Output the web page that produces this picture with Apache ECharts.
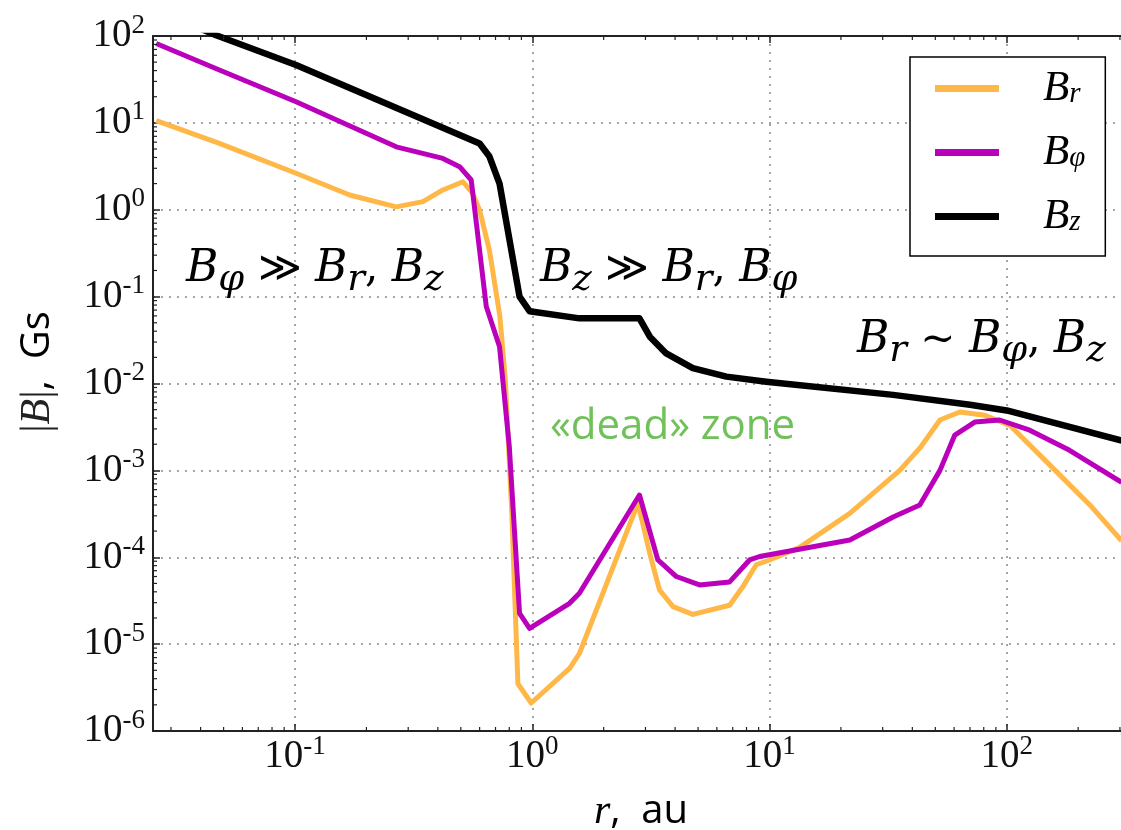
<!DOCTYPE html>
<html><head><meta charset="utf-8">
<script src="https://cdn.jsdelivr.net/npm/echarts@6/dist/echarts.min.js"></script>
<style>html,body{margin:0;padding:0;background:#fff}#c{width:1121px;height:830px}</style>
</head><body><div id="c"></div>
<script>
// ---- data (r in au, |B| in Gs) ----
const rBr   = [0.026, 0.048, 0.101, 0.170, 0.267, 0.346, 0.42, 0.51, 0.56, 0.60, 0.66, 0.73, 0.77, 0.82, 0.87, 0.99, 1.44, 1.58, 2.79, 3.13, 3.44, 3.92, 4.75, 6.79, 7.73, 8.79, 10.0, 13.4, 21.8, 35.4, 43.0, 52.3, 63.4, 80.9, 103, 152, 224, 305];
const valBr = [10.6, 5.8, 2.63, 1.48, 1.08, 1.24, 1.69, 2.10, 1.55, 0.99, 0.34, 0.06, 0.011, 3.2e-4, 3.5e-6, 2.1e-6, 5.3e-6, 7.8e-6, 4.2e-4, 1.1e-4, 4.2e-5, 2.7e-5, 2.2e-5, 2.8e-5, 4.6e-5, 8.2e-5, 9.3e-5, 1.3e-4, 3.2e-4, 1.0e-3, 1.8e-3, 3.8e-3, 4.7e-3, 4.3e-3, 3.3e-3, 1.15e-3, 4.0e-4, 1.55e-4];

const rBphi   = [0.026, 0.048, 0.101, 0.267, 0.42, 0.494, 0.553, 0.64, 0.728, 0.80, 0.884, 0.974, 1.436, 1.58, 2.83, 3.385, 4.05, 5.07, 6.79, 8.24, 9.09, 21.8, 33.2, 43.0, 52.3, 60.4, 73.3, 93.4, 125, 184, 305];
const valBphi = [82, 40.6, 17.5, 5.3, 3.9, 3.13, 2.2, 0.077, 0.0265, 1.9e-3, 2.26e-5, 1.52e-5, 2.95e-5, 3.85e-5, 5.2e-4, 9.3e-5, 6.0e-5, 4.8e-5, 5.2e-5, 9.3e-5, 1.02e-4, 1.58e-4, 2.9e-4, 4.0e-4, 1.0e-3, 2.55e-3, 3.6e-3, 3.8e-3, 2.9e-3, 1.7e-3, 7.3e-4];

const rBz   = [0.0252, 0.0465, 0.101, 0.60, 0.66, 0.728, 0.884, 0.974, 1.58, 2.75, 2.83, 3.13, 3.67, 4.75, 6.58, 9.69, 33.2, 70, 100, 305];
const valBz = [205, 102, 46.4, 5.8, 4.1, 2.0, 0.0998, 0.068, 0.0562, 0.0565, 0.0562, 0.0346, 0.0222, 0.0150, 0.0120, 0.0105, 0.0074, 0.0057, 0.0049, 0.0022];

const seriesNames = ['Br', 'Bphi', 'Bz'];
const seriesSubs  = {Br: 'r', Bphi: 'φ', Bz: 'z'};
const seriesColors = ['#FFB847', '#BB00BB', '#000000'];

const X_MIN = 0.0252, X_MAX = 334, Y_MIN = 1e-6, Y_MAX = 100;
const xDecades = [-2, -1, 0, 1, 2];
const yDecades = [-6, -5, -4, -3, -2, -1, 0, 1];

// ---- build ----
const zip = (a, b) => a.map((v, i) => [v, b[i]]);
const xMinor = [], yMinor = [];
xDecades.forEach(e => { for (let m = 2; m <= 9; m++) { const v = m * Math.pow(10, e); if (v > X_MIN && v < X_MAX) xMinor.push([v, 1]); } });
yDecades.forEach(e => { for (let m = 2; m <= 9; m++) { const v = m * Math.pow(10, e); if (v > Y_MIN && v < Y_MAX) yMinor.push([1, v]); } });

const tickRich = {
  b: {fontFamily: 'Liberation Serif', fontSize: 39, lineHeight: 48, color: '#111'},
  s: {fontFamily: 'Liberation Serif', fontSize: 27, lineHeight: 20, verticalAlign: 'top', color: '#111'}
};
const powLabel = v => '{b|10}{s|' + Math.round(Math.log10(v)) + '}';

const axisLineStyle = {color: '#222', width: 2};
const tickStyle = {color: '#222', width: 1.5};
const gridLine = {show: true, lineStyle: {color: '#888', type: [2, 6], width: 1.5}};

const mathRich = {
  B: {fontFamily: 'DejaVu Serif', fontStyle: 'italic', fontSize: 44, lineHeight: 58, fill: '#000'},
  s: {fontFamily: 'DejaVu Serif', fontStyle: 'italic', fontSize: 37, lineHeight: 36, verticalAlign: 'bottom', fill: '#000'},
  o: {fontFamily: 'DejaVu Serif', fontSize: 42, lineHeight: 58, fill: '#000'}
};

const chart = echarts.init(document.getElementById('c'), null, {renderer: 'canvas'});
chart.setOption({
  animation: false,
  backgroundColor: '#fff',
  grid: {left: 153, top: 36, width: 978, height: 695, containLabel: false, outerBoundsMode: 'none'},
  xAxis: [{
    type: 'log', logBase: 10, min: X_MIN, max: X_MAX, position: 'bottom',
    axisLine: {lineStyle: axisLineStyle},
    axisTick: {inside: true, length: 7, lineStyle: tickStyle},
    splitLine: gridLine,
    axisLabel: {formatter: powLabel, rich: tickRich, margin: 2, showMinLabel: false, showMaxLabel: false}
  }, {
    type: 'log', logBase: 10, min: X_MIN, max: X_MAX, position: 'top',
    axisLine: {lineStyle: axisLineStyle},
    axisTick: {inside: true, length: 7, lineStyle: tickStyle},
    splitLine: {show: false}, axisLabel: {show: false}
  }],
  yAxis: [{
    type: 'log', logBase: 10, min: Y_MIN, max: Y_MAX,
    axisLine: {show: true, lineStyle: axisLineStyle},
    axisTick: {show: true, inside: true, length: 7, lineStyle: tickStyle},
    splitLine: gridLine,
    axisLabel: {formatter: powLabel, rich: tickRich, margin: 8}
  }],
  legend: {
    data: seriesNames,
    orient: 'vertical', left: 910, top: 57,
    backgroundColor: '#fff', borderColor: '#000', borderWidth: 1.5, borderRadius: 0,
    padding: [10, 20, 18, 25],
    itemGap: 21, itemWidth: 64, itemHeight: 7, icon: 'rect',
    formatter: name => '{b|B}{s|' + seriesSubs[name] + '}',
    textStyle: {
      padding: [0, 0, 0, 39],
      rich: {
        b: {fontFamily: 'Liberation Serif', fontStyle: 'italic', fontSize: 43, lineHeight: 40, color: '#000'},
        s: {fontFamily: 'Liberation Serif', fontStyle: 'italic', fontSize: 29, lineHeight: 24, verticalAlign: 'bottom', color: '#000'}
      }
    }
  },
  series: [
    {name: 'Br', type: 'line', data: zip(rBr, valBr), color: seriesColors[0], showSymbol: false, lineStyle: {width: 5, join: 'round'}, z: 3},
    {name: 'Bphi', type: 'line', data: zip(rBphi, valBphi), color: seriesColors[1], showSymbol: false, lineStyle: {width: 5, join: 'round'}, z: 4},
    {name: 'Bz', type: 'line', data: zip(rBz, valBz), color: seriesColors[2], showSymbol: false, lineStyle: {width: 6.5, join: 'round'}, z: 5},
    {type: 'custom', silent: true, data: xMinor, encode: {x: 0, y: 1}, z: 6,
      renderItem: (params, api) => {
        const cs = params.coordSys;
        const x = api.coord([api.value(0), 1])[0];
        return {type: 'group', children: [
          {type: 'line', shape: {x1: x, y1: cs.y + cs.height, x2: x, y2: cs.y + cs.height - 4}, style: {stroke: '#222', lineWidth: 1.2}},
          {type: 'line', shape: {x1: x, y1: cs.y, x2: x, y2: cs.y + 4}, style: {stroke: '#222', lineWidth: 1.2}}
        ]};
      }},
    {type: 'custom', silent: true, data: yMinor, encode: {x: 0, y: 1}, z: 6,
      renderItem: (params, api) => {
        const cs = params.coordSys;
        const y = api.coord([1, api.value(1)])[1];
        return {type: 'line', shape: {x1: cs.x, y1: y, x2: cs.x + 4, y2: y}, style: {stroke: '#222', lineWidth: 1.2}};
      }}
  ],
  graphic: [
    {type: 'text', x: 186, y: 270, z: 10, style: {text: '{B|B}{s|φ}{o| ≫ }{B|B}{s|r}{o|, }{B|B}{s|z}', rich: mathRich, align: 'left', verticalAlign: 'middle'}},
    {type: 'text', x: 540, y: 270, z: 10, style: {text: '{B|B}{s|z}{o| ≫ }{B|B}{s|r}{o|, }{B|B}{s|φ}', rich: mathRich, align: 'left', verticalAlign: 'middle'}},
    {type: 'text', x: 857, y: 341, z: 10, style: {text: '{B|B}{s|r}{o| ~ }{B|B}{s|φ}{o|, }{B|B}{s|z}', rich: mathRich, align: 'left', verticalAlign: 'middle'}},
    {type: 'text', x: 550, y: 427, z: 10, style: {text: '«dead» zone', fontFamily: 'Open Sans', fontSize: 42, fill: '#70C15A', align: 'left', verticalAlign: 'middle'}},
    {type: 'text', x: 641, y: 812, z: 10, style: {text: '{i|r}{n|,  au}', align: 'center', verticalAlign: 'middle',
      rich: {i: {fontFamily: 'Liberation Serif', fontStyle: 'italic', fontSize: 42, fill: '#000'}, n: {fontFamily: 'Open Sans', fontSize: 40, fill: '#000'}}}},
    {type: 'text', x: 38, y: 372, rotation: Math.PI / 2, z: 10, style: {text: '{u||}{i|B}{u||}{n|,  Gs}', align: 'center', verticalAlign: 'middle',
      rich: {u: {fontFamily: 'Liberation Serif', fontSize: 42, fill: '#222'}, i: {fontFamily: 'Liberation Serif', fontStyle: 'italic', fontSize: 42, fill: '#222'}, n: {fontFamily: 'Open Sans', fontSize: 40, fill: '#000'}}}}
  ]
});
</script></body></html>
